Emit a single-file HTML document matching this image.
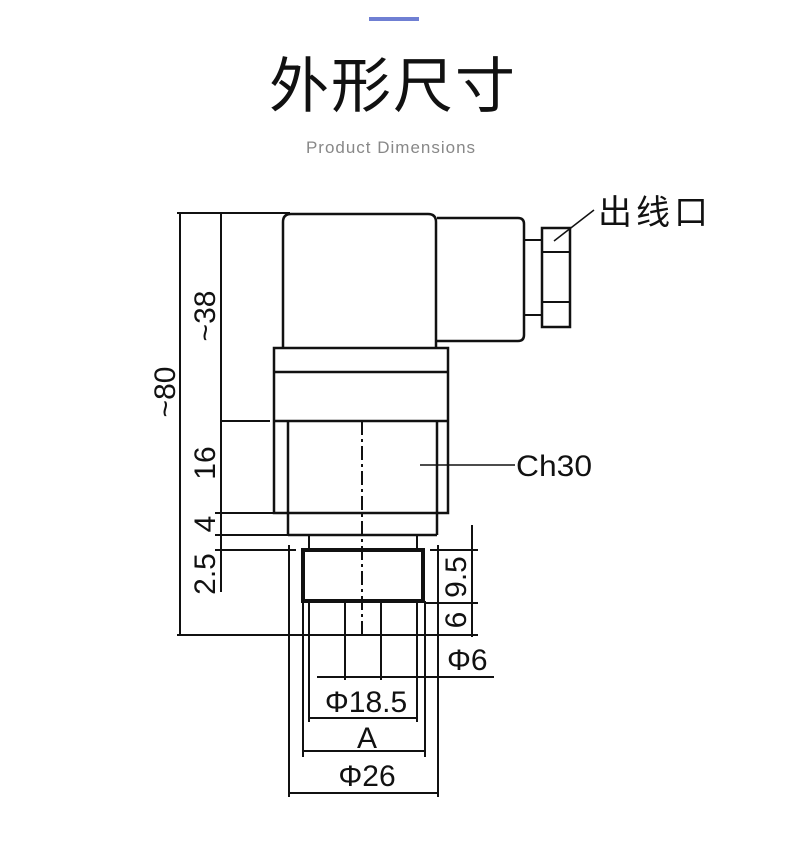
<!DOCTYPE html>
<html><head><meta charset="utf-8"><style>
body{margin:0;background:#fff;width:790px;height:844px;overflow:hidden}
svg{position:absolute;left:0;top:0}
</style></head><body>
<svg width="790" height="844" viewBox="0 0 790 844" xmlns="http://www.w3.org/2000/svg">
<rect x="369" y="17" width="50" height="4" fill="#6f7fd3"/>
<text x="393" y="107" font-family="Noto Sans CJK SC, sans-serif" font-size="60" text-anchor="middle" fill="#111" letter-spacing="2">外形尺寸</text>
<text x="391" y="153" font-family="Liberation Sans, sans-serif" font-size="17" text-anchor="middle" fill="#888" letter-spacing="1">Product  Dimensions</text>
<g stroke="#111" fill="none" stroke-width="2">
<line x1="177" y1="213" x2="290" y2="213"/>
<line x1="180" y1="213" x2="180" y2="635"/>
<line x1="221" y1="213" x2="221" y2="592"/>
<line x1="221" y1="421" x2="270" y2="421"/>
<line x1="215" y1="513" x2="290" y2="513"/>
<line x1="215" y1="535" x2="290" y2="535"/>
<line x1="215" y1="550" x2="296" y2="550"/>
<line x1="177" y1="635" x2="478" y2="635"/>
<path d="M283 348 V222 Q283 214 291 214 H428 Q436 214 436 222 V348" stroke-width="2.5"/>
<path d="M437 218 H518 Q524 218 524 224 V335 Q524 341 518 341 H437" stroke-width="2.5"/>
<line x1="524" y1="240" x2="542" y2="240"/>
<line x1="524" y1="315" x2="542" y2="315"/>
<rect x="542" y="228" width="28" height="99" stroke-width="2.5"/>
<line x1="542" y1="252" x2="570" y2="252"/>
<line x1="542" y1="302" x2="570" y2="302"/>
<line x1="554" y1="241" x2="594" y2="210" stroke-width="1.5"/>
<rect x="274" y="348" width="174" height="165" stroke-width="2.5"/>
<line x1="274" y1="372" x2="448" y2="372" stroke-width="2.5"/>
<line x1="274" y1="421" x2="448" y2="421" stroke-width="2.5"/>
<line x1="288" y1="421" x2="288" y2="535" stroke-width="2.5"/>
<line x1="437" y1="421" x2="437" y2="535" stroke-width="2.5"/>
<line x1="288" y1="535" x2="437" y2="535" stroke-width="2.5"/>
<line x1="362" y1="421" x2="362" y2="635" stroke-dasharray="14,4,3,4"/>
<line x1="420" y1="465" x2="515" y2="465" stroke-width="1.5"/>
<line x1="309" y1="535" x2="309" y2="550"/>
<line x1="417" y1="535" x2="417" y2="550"/>
<rect x="303" y="550" width="120" height="51" stroke-width="4"/>
<rect x="345" y="601" width="36" height="34"/>
<line x1="472" y1="525" x2="472" y2="637"/>
<line x1="430" y1="550" x2="478" y2="550"/>
<line x1="425" y1="603" x2="478" y2="603"/>
<line x1="345" y1="635" x2="345" y2="680"/>
<line x1="381" y1="635" x2="381" y2="680"/>
<line x1="317" y1="677" x2="494" y2="677"/>
<line x1="309" y1="601" x2="309" y2="722"/>
<line x1="417" y1="601" x2="417" y2="722"/>
<line x1="309" y1="718" x2="417" y2="718"/>
<line x1="303" y1="601" x2="303" y2="757"/>
<line x1="425" y1="601" x2="425" y2="757"/>
<line x1="303" y1="751" x2="425" y2="751"/>
<line x1="289" y1="545" x2="289" y2="797"/>
<line x1="438" y1="545" x2="438" y2="797"/>
<line x1="289" y1="793" x2="438" y2="793"/>
</g>
<g font-family="Liberation Sans, sans-serif" font-size="30" fill="#111">
<text x="516" y="476" textLength="76" lengthAdjust="spacingAndGlyphs">Ch30</text>
<text x="447" y="670">Φ6</text>
<text x="366" y="712" text-anchor="middle">Φ18.5</text>
<text x="367" y="748" text-anchor="middle">A</text>
<text x="367" y="786" text-anchor="middle">Φ26</text>
<text transform="translate(175,392) rotate(-90)" text-anchor="middle">~80</text>
<text transform="translate(215,316) rotate(-90)" text-anchor="middle">~38</text>
<text transform="translate(215,463) rotate(-90)" text-anchor="middle">16</text>
<text transform="translate(215,524) rotate(-90)" text-anchor="middle">4</text>
<text transform="translate(215,574) rotate(-90)" text-anchor="middle">2.5</text>
<text transform="translate(466,577) rotate(-90)" text-anchor="middle">9.5</text>
<text transform="translate(466,620) rotate(-90)" text-anchor="middle">6</text>
</g>
<text x="598" y="224" font-family="Noto Sans CJK SC, sans-serif" font-size="34" fill="#111" letter-spacing="4">出线口</text>
</svg>
</body></html>
